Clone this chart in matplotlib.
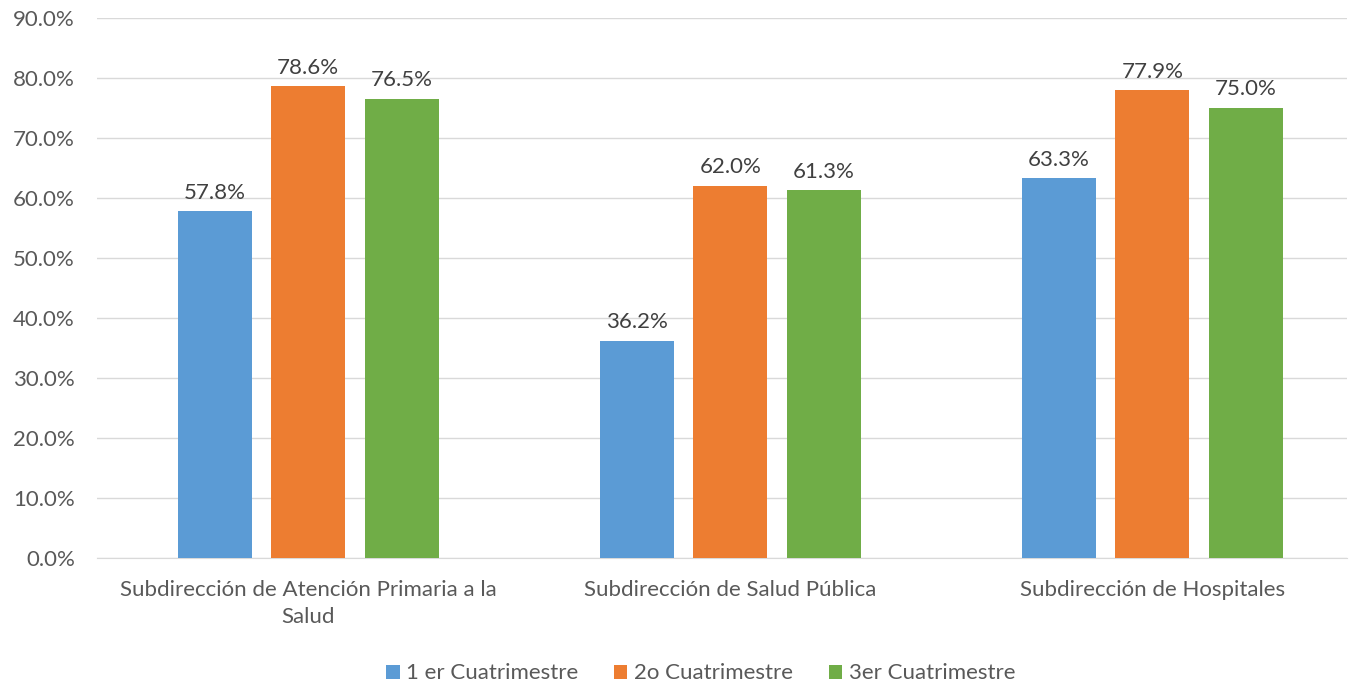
import numpy as np
import matplotlib.pyplot as plt

# datos
categorias = ["Subdirección de Atención Primaria a la\nSalud",
              "Subdirección de Salud Pública",
              "Subdirección de Hospitales"]
series = ["1 er Cuatrimestre", "2o Cuatrimestre", "3er Cuatrimestre"]
valores_1 = [57.8, 36.2, 63.3]
valores_2 = [78.6, 62.0, 77.9]
valores_3 = [76.5, 61.3, 75.0]
colores = ["#5B9BD5", "#ED7D31", "#70AD47"]

plt.rcParams['font.family'] = ['Lato', 'DejaVu Sans']
gris = "#595959"
fs = 16

fig = plt.figure(figsize=(13.5, 6.83), dpi=100)
ax = fig.add_axes([0.072, 0.183, 0.926, 0.791])

x = np.arange(len(categorias))
ancho = 0.175
paso = 0.2216
for i, (vals, nombre) in enumerate(zip([valores_1, valores_2, valores_3], series)):
    pos = x + (i - 1) * paso
    ax.bar(pos, vals, ancho, color=colores[i], label=nombre, zorder=3)
    for xb, v in zip(pos, vals):
        ax.text(xb, v + 1.4, f"{v:.1f}%", ha='center', va='bottom',
                fontsize=fs, color="#404040")

ax.set_xlim(-0.5, 2.462)
ax.set_ylim(0, 90)
ax.set_yticks(np.arange(0, 91, 10))
ax.set_yticklabels([f"{t:.1f}%" for t in np.arange(0, 91, 10)])
ax.set_xticks(x)
ax.set_xticklabels(categorias, linespacing=1.4)
ax.tick_params(axis='both', length=0, labelsize=fs, colors=gris)
ax.tick_params(axis='x', pad=16)
ax.tick_params(axis='y', pad=16)
ax.grid(axis='y', color="#D9D9D9", linewidth=1, zorder=0)
for s in ['top', 'right', 'left']:
    ax.spines[s].set_visible(False)
ax.spines['bottom'].set_color("#D9D9D9")

leg = fig.legend(loc='lower center', ncol=3, frameon=False, fontsize=fs,
                 bbox_to_anchor=(0.519, -0.03), handlelength=0.6,
                 handleheight=0.6, columnspacing=1.6, handletextpad=0.3)
for t in leg.get_texts():
    t.set_color(gris)

fig.savefig("out.png", dpi=100)
